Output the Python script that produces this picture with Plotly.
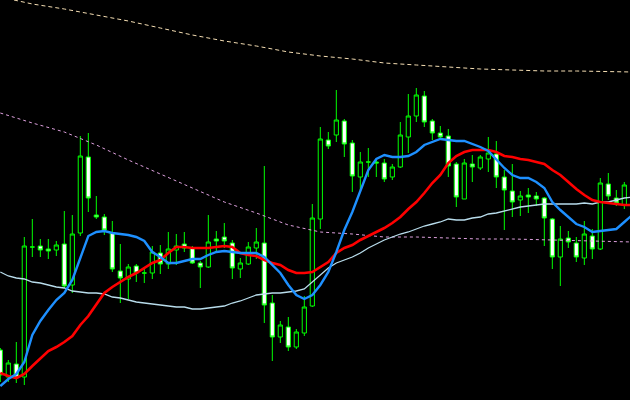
import plotly.graph_objects as go

# candle index (one bar per 8 px)
bars = list(range(79))

open_ = [50, 23, 36, 23, 153, 154, 151, 150, 156, 115, 167, 243, 185, 183, 167, 129, 121, 134, 127, 127,
         147, 136, 150, 156, 152, 137, 133, 161, 163, 157, 131, 136, 152, 157, 97, 63, 73, 53, 67, 94,
         181, 260, 265, 279, 257, 223, 238, 238, 237, 223, 233, 263, 284, 304, 279, 267, 264, 236, 201, 236,
         232, 241, 246, 223, 209, 200, 205, 204, 202, 181, 143, 162, 157, 142, 164, 151, 216, 202, 195]
high = [52, 40, 58, 163, 181, 161, 161, 159, 189, 185, 264, 267, 204, 186, 179, 156, 136, 136, 133, 154,
        155, 168, 166, 168, 154, 139, 185, 169, 177, 160, 142, 158, 172, 234, 105, 79, 83, 71, 104, 196,
        273, 268, 310, 281, 260, 248, 252, 241, 241, 236, 278, 306, 312, 309, 281, 274, 271, 238, 241, 245,
        245, 263, 259, 230, 236, 209, 212, 208, 203, 182, 174, 169, 163, 179, 171, 222, 227, 210, 218]
low = [18, 18, 17, 15, 143, 143, 141, 144, 112, 107, 164, 188, 181, 165, 128, 97, 101, 118, 117, 121,
       126, 131, 135, 148, 136, 112, 132, 147, 152, 121, 122, 135, 141, 77, 39, 57, 49, 51, 64, 93,
       171, 251, 258, 243, 208, 210, 223, 223, 218, 220, 232, 247, 278, 273, 260, 262, 223, 193, 201, 218,
       230, 228, 212, 170, 183, 184, 187, 194, 154, 131, 114, 152, 138, 135, 141, 150, 200, 194, 191]
close = [25, 37, 22, 154, 153, 150, 149, 155, 114, 166, 244, 202, 183, 170, 131, 122, 133, 127, 127, 148,
         136, 151, 154, 152, 137, 133, 158, 159, 159, 132, 137, 153, 158, 95, 63, 75, 53, 68, 93, 182,
         261, 254, 280, 256, 224, 238, 238, 237, 221, 233, 265, 284, 305, 278, 267, 263, 234, 203, 237, 233,
         243, 247, 223, 210, 198, 204, 203, 201, 182, 143, 161, 158, 143, 166, 151, 217, 204, 197, 215]

# moving averages, one value per bar (last value belongs to the bar just off the right edge)
ma_bars = list(range(80))
ma_fast = [14, 21, 26, 38, 65, 79, 90, 100, 107, 120, 142, 164, 168, 169, 167, 166, 165, 163, 159, 148,
           143, 137, 137, 139, 141, 141, 145, 148, 149, 148, 147, 147, 147, 143, 135, 127, 115, 105, 101, 105,
           115, 128, 148, 170, 188, 210, 230, 241, 245, 243, 243, 244, 248, 255, 258, 261, 260, 259, 259, 256,
           253, 249, 240, 232, 225, 222, 222, 218, 212, 198, 190, 183, 176, 173, 168, 169, 170, 171, 178, 185]
ma_mid = [27, 24, 22, 26, 34, 42, 49, 53, 58, 64, 75, 84, 95, 107, 113, 118, 123, 127, 132, 137,
          140, 147, 153, 153, 152, 152, 152, 153, 154, 153, 147, 145, 144, 140, 137, 135, 130, 127, 127, 128,
          133, 138, 147, 152, 155, 160, 164, 168, 172, 177, 183, 191, 198, 207, 217, 225, 237, 244, 248, 250,
          250, 250, 248, 244, 243, 241, 240, 238, 236, 230, 225, 218, 211, 205, 200, 198, 197, 196, 195, 195]
ma_slow = [128, 124, 122, 121, 118, 117, 115, 113, 112, 109, 108, 107, 107, 106, 103, 102, 100, 98, 97, 96,
           95, 94, 93, 93, 91, 91, 92, 93, 94, 97, 99, 102, 105, 106, 107, 107, 108, 109, 111, 118,
           125, 132, 137, 140, 143, 147, 152, 156, 160, 163, 166, 168, 171, 174, 176, 178, 181, 180, 180, 182,
           183, 186, 187, 189, 191, 193, 194, 195, 196, 196, 196, 196, 196, 197, 196, 198, 198, 200, 202, 203]

# long-period dashed averages (read every 4 bars)
long_bars = [0, 4, 8, 12, 16, 20, 24, 28, 32, 36, 40, 44, 48, 52, 56, 60, 64, 68, 72, 76, 79]
ma_plum = [287, 277, 268, 255, 240, 226, 212, 198, 187, 175, 168, 166, 163, 163, 162, 161, 161, 160, 159, 158, 158]
ma_wheat = [403, 396, 391, 385, 379, 372, 365, 359, 354, 348, 344, 341, 337, 335, 333, 331, 330, 329, 329, 328, 328]

fig = go.Figure()

fig.add_trace(go.Candlestick(
    x=bars, open=open_, high=high, low=low, close=close,
    increasing=dict(line=dict(color="#00FF00", width=1), fillcolor="#000000"),
    decreasing=dict(line=dict(color="#00FF00", width=1), fillcolor="#FFFFFF"),
    whiskerwidth=0, showlegend=False, hoverinfo="skip",
))

fig.add_trace(go.Scatter(x=long_bars, y=ma_wheat, mode="lines",
                         line=dict(color="#F5DEB3", width=1, dash="4px,3px"),
                         showlegend=False, hoverinfo="skip"))
fig.add_trace(go.Scatter(x=long_bars, y=ma_plum, mode="lines",
                         line=dict(color="#DDA0DD", width=1, dash="3px,3px"),
                         showlegend=False, hoverinfo="skip"))
fig.add_trace(go.Scatter(x=ma_bars, y=ma_slow, mode="lines",
                         line=dict(color="#B8DCEB", width=1.3),
                         showlegend=False, hoverinfo="skip"))
fig.add_trace(go.Scatter(x=ma_bars, y=ma_mid, mode="lines",
                         line=dict(color="#FF0000", width=2.6),
                         showlegend=False, hoverinfo="skip"))
fig.add_trace(go.Scatter(x=ma_bars, y=ma_fast, mode="lines",
                         line=dict(color="#1E90FF", width=2.4),
                         showlegend=False, hoverinfo="skip"))

fig.update_layout(
    width=630, height=400,
    margin=dict(l=0, r=0, t=0, b=0),
    paper_bgcolor="#000000", plot_bgcolor="#000000",
    showlegend=False,
    boxgap=0.25,
    xaxis=dict(range=[-0.04, 78.71], visible=False, showgrid=False, zeroline=False,
               rangeslider=dict(visible=False), fixedrange=True),
    yaxis=dict(range=[0, 400], visible=False, showgrid=False, zeroline=False, fixedrange=True),
    hovermode=False,
)

fig.write_html("out.html", config={"displayModeBar": False},
               post_script="document.body.style.margin='0';document.body.style.background='#000';")
